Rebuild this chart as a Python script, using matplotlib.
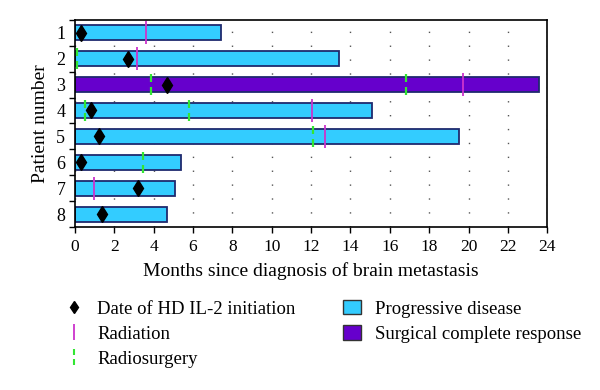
import numpy as np
import matplotlib
matplotlib.use('Agg')
from matplotlib import pyplot as plt
from matplotlib.lines import Line2D
from matplotlib.patches import Patch
from matplotlib.path import Path

plt.rcParams['font.family'] = ['Liberation Serif', 'DejaVu Serif']

# data (months)
patients = [1, 2, 3, 4, 5, 6, 7, 8]
duration = [7.4, 13.4, 23.6, 15.1, 19.5, 5.4, 5.1, 4.7]
outcome = ['pd', 'pd', 'cr', 'pd', 'pd', 'pd', 'pd', 'pd']
il2_start = [0.3, 2.7, 4.7, 0.8, 1.2, 0.3, 3.2, 1.35]
radiation_pt = [1, 2, 3, 4, 5, 7]
radiation_t = [3.6, 3.15, 19.7, 12.05, 12.7, 0.95]
radiosurg_pt = [2, 3, 3, 4, 4, 5, 6]
radiosurg_t = [0.1, 3.85, 16.8, 0.5, 5.8, 12.1, 3.45]

blue = '#33CCFF'
purple = '#6600CC'
edge = '#1F2A6E'
magenta = '#CC33CC'
green = '#33E633'

fig = plt.figure(figsize=(6.0, 3.9), dpi=100)
ax = fig.add_axes([0.125, 0.418, 0.787, 0.531])

colors = [purple if o == 'cr' else blue for o in outcome]
ax.barh(patients, duration, height=0.58, color=colors, edgecolor=edge,
        linewidth=1.3, zorder=2)

ax.plot(il2_start, patients, linestyle='none', marker='d', color='black',
        markersize=8.5, zorder=4)

rp = np.array(radiation_pt)
ax.vlines(radiation_t, rp - 0.44, rp + 0.44, color=magenta, linewidth=1.3, zorder=3)

sp = np.array(radiosurg_pt)
ax.vlines(radiosurg_t, sp - 0.4, sp - 0.1, color=green, linewidth=1.6, zorder=3)
ax.vlines(radiosurg_t, sp + 0.1, sp + 0.4, color=green, linewidth=1.6, zorder=3)

ax.set_xlim(0, 24)
ax.set_ylim(8.5, 0.5)
ax.set_xticks(np.arange(0, 25, 2))
ax.set_yticks(patients)
ax.set_yticks(np.arange(0.5, 8.6, 1), minor=True)
ax.tick_params(axis='y', which='major', length=0, labelsize=13, pad=7)
ax.tick_params(axis='y', which='minor', length=4, width=1, direction='out')
ax.tick_params(axis='x', length=4, width=1, direction='out', labelsize=12.5, pad=5)
ax.grid(axis='x', color='#555555', linestyle=(0, (1, 9)), linewidth=1, zorder=0)
for s in ax.spines.values():
    s.set_linewidth(1.2)

ax.set_xlabel('Months since diagnosis of brain metastasis', fontsize=14, labelpad=5)
ax.set_ylabel('Patient number', fontsize=14, labelpad=5)

dash_marker = Path([(0, -1), (0, -0.25), (0, 0.25), (0, 1)],
                   [Path.MOVETO, Path.LINETO, Path.MOVETO, Path.LINETO])
handles = [
    Line2D([], [], linestyle='none', marker='d', color='black', markersize=6),
    Line2D([], [], linestyle='none', marker='|', markeredgecolor=magenta,
           markersize=11, markeredgewidth=1.3),
    Line2D([], [], linestyle='none', marker=dash_marker, markeredgecolor=green,
           markersize=11, markeredgewidth=1.5),
    Patch(facecolor=blue, edgecolor='#333333'),
    Patch(facecolor=purple, edgecolor='#333333'),
]
labels = ['Date of HD IL-2 initiation', 'Radiation', 'Radiosurgery',
          'Progressive disease', 'Surgical complete response']
fig.legend(handles, labels, loc='upper left', bbox_to_anchor=(0.095, 0.25),
           ncol=2, frameon=False, fontsize=13.5, handlelength=1.0,
           handleheight=0.8, handletextpad=0.75, labelspacing=0.4,
           columnspacing=2.5, borderaxespad=0)

fig.savefig('out.png', dpi=100)
